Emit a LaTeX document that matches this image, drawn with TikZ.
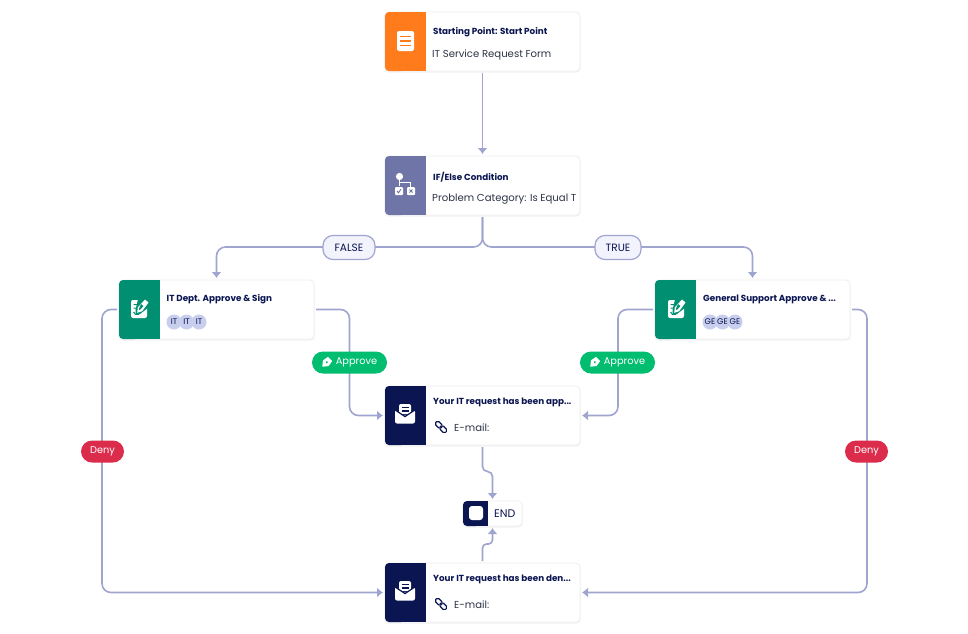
\documentclass[tikz,border=0pt]{standalone}
\usepackage{fontspec}
\setmainfont{Poppins}
\usetikzlibrary{arrows.meta,calc}
\definecolor{flowc}{HTML}{A0A5D0}
\definecolor{navy}{HTML}{0A1551}
\definecolor{orangeb}{HTML}{FF7B1C}
\definecolor{purpleb}{HTML}{6F76A7}
\definecolor{greenb}{HTML}{018F72}
\definecolor{apprv}{HTML}{01BD6F}
\definecolor{denyc}{HTML}{DC2C4C}
\definecolor{pillf}{HTML}{F3F3FE}
\definecolor{avat}{HTML}{C8CEED}
\definecolor{bodyt}{HTML}{2C3345}
\definecolor{edgec}{HTML}{EEEEF3}
\tikzset{
  x=1pt,y=-1pt,
  card/.style={draw=edgec,fill=white,rounded corners=4pt,minimum width=195pt,minimum height=59pt,inner sep=0pt,outer sep=2pt,line width=.7pt,
    preaction={draw=black!5,line width=1.4pt,transform canvas={yshift=-1pt}}},
  endcard/.style={card,minimum width=59pt,minimum height=25pt},
  title/.style={anchor=west,inner sep=0pt,font=\fontsize{8.8}{10}\selectfont\bfseries,text=navy},
  bodytxt/.style={anchor=west,inner sep=0pt,font=\fontsize{10.1}{12}\selectfont,text=bodyt},
  flow/.style={draw=flowc,line width=1.6pt,rounded corners=9pt,-{Latex[length=6pt,width=10pt]}},
  pillb/.style={rounded corners=11pt,minimum height=22pt,inner sep=0pt,text=white,font=\fontsize{9.8}{11}\selectfont},
  branch/.style={rounded corners=10pt,draw=flowc,fill=pillf,line width=1.2pt,minimum height=24pt,inner sep=0pt,text=navy,font=\fontsize{10.6}{12}\selectfont},
  avatar/.style={circle,fill=avat,minimum size=15pt,inner sep=0pt,text=navy,font=\fontsize{8.2}{9}\selectfont},
}
\newcommand{\band}[2]{%
  \fill[#2,rounded corners=4pt] (#1.north west)++(2,2) rectangle ($(#1.south west)+(22,-2)$);
  \fill[#2] ($(#1.north west)+(12,2)$) rectangle ($(#1.south west)+(42.5,-2)$);
}
\newcommand{\signicon}[2]{%
  \begin{scope}[shift={(#1,#2)}]
    \fill[white,rounded corners=2pt] (-8,-9) rectangle (8,9);
    \fill[greenb] (-1,-9.6) -- (8.8,-9.6) -- (8.8,-1) -- (1,5) -- (-3.5,5.5) -- (-3.5,1) -- cycle;
    \fill[white] (6,-9.5) -- (9.5,-6.5) -- (3.2,2.2) -- (-1.8,3.8) -- (-1.2,-1.6) -- cycle;
    \fill[greenb] (2,-5) -- (4.4,-3) -- (1.6,.2) -- (.2,1) -- (.2,-.8) -- cycle;
    \draw[greenb,line width=1pt] (-5.5,-4.5) -- (-2,-4.5) (-5.5,-1) -- (-3,-1) (-5.5,3) -- (-3.5,5.4) -- (0,5.4);
  \end{scope}}
\newcommand{\mailicon}[2]{%
  \begin{scope}[shift={(#1,#2)}]
    \fill[white,rounded corners=2pt] (-6,-10) rectangle (6,0);
    \fill[white,rounded corners=2pt] (-10,-4) -- (0,2.5) -- (10,-4) -- (10,9.5) -- (-10,9.5) -- cycle;
    \draw[navy,line width=1.3pt] (-3.5,-6.5) -- (3.5,-6.5) (-3.5,-3) -- (3.5,-3);
    \draw[navy,line width=1.2pt] (-10.5,-4.5) -- (0,2.6) -- (10.5,-4.5);
  \end{scope}}
\newcommand{\linkicon}[2]{%
  \begin{scope}[shift={(#1,#2)},rotate=-45]
    \draw[navy,line width=1.1pt,rounded corners=1.8pt] (-7,-2.3) rectangle (.8,2.3);
    \draw[navy,line width=1.1pt,rounded corners=1.8pt] (-.8,-2.3) rectangle (7,2.3);
  \end{scope}}
\begin{document}
\begin{tikzpicture}
\useasboundingbox (0,0) rectangle (968,633);
\fill[white] (0,0) rectangle (968,633);

% cards
\node[card] (start) at (482.5,41.5) {};
\node[card] (cond) at (482.5,185.5) {};
\node[card] (itd) at (216.5,309.5) {};
\node[card] (gen) at (752.5,309.5) {};
\node[card] (appr) at (482.5,415.5) {};
\node[card] (deny) at (482.5,592.5) {};
\node[endcard] (fin) at (492.5,513.5) {};

% coloured bands
\band{start}{orangeb}
\band{cond}{purpleb}
\band{itd}{greenb}
\band{gen}{greenb}
\band{appr}{navy}
\band{deny}{navy}
\fill[navy,rounded corners=4pt] (463,501) rectangle (480,526);
\fill[navy] (472,501) rectangle (488,526);

% icons
\fill[white,rounded corners=2pt] (397,31) rectangle (414,51);
\draw[orangeb,line width=1.6pt] (400,36.5) -- (411,36.5) (400,41) -- (411,41) (400,45.5) -- (411,45.5);
\begin{scope}[shift={(405,186)}]
  \fill[white] (-5.5,-9.5) circle (3.6);
  \draw[white,line width=1.5pt] (-5.5,-7) -- (-5.5,0) (-5.5,-3.5) -- (5.5,-3.5) -- (5.5,1);
  \fill[white,rounded corners=1pt] (-10,1) rectangle (-2,9);
  \fill[white,rounded corners=1pt] (2,1) rectangle (10,9);
  \draw[purpleb,line width=.9pt] (-8,5) -- (-6.5,6.8) -- (-4,3.2);
  \draw[purpleb,line width=.9pt] (4.5,3.5) -- (7.5,6.5) (7.5,3.5) -- (4.5,6.5);
\end{scope}
\signicon{139}{309}
\signicon{676}{309}
\mailicon{405}{414}
\mailicon{405}{591}
\fill[white,rounded corners=3pt] (469,506) rectangle (483,520);

% card texts
\node[title] (t1) at (433,32) {Starting Point: Start Point};
\node[bodytxt] (b1) at (432,55) {IT Service Request Form};
\node[title] (t2) at (433,177) {IF/Else Condition};
\node[bodytxt] (b2) at (432,199.5) {Problem Category: Is Equal T};
\node[title] (t3) at (166.5,299) {IT Dept. Approve \& Sign};
\node[title] (t4) at (703,299) {General Support Approve \& ...};
\node[title] (t5) at (433,402.5) {Your IT request has been app...};
\node[title] (t6) at (433,579) {Your IT request has been den...};
\node[bodytxt] (b5) at (454,427.5) {E-mail:};
\node[bodytxt] (b6) at (454,604.5) {E-mail:};
\linkicon{441}{427}
\linkicon{441}{604}
\node[anchor=west,inner sep=0pt,font=\fontsize{11}{13}\selectfont,text=navy] (endt) at (494,514) {END};

% avatars
\node[avatar] (a1) at (174,322) {IT};
\node[avatar] (a2) at (186.5,322) {IT};
\node[avatar] (a3) at (199,322) {IT};
\node[avatar] (g1) at (710,322) {GE};
\node[avatar] (g2) at (722.5,322) {GE};
\node[avatar] (g3) at (735,322) {GE};

% connectors
\draw[flow] (start.south) -- (cond.north);
\draw[flow] (cond.south) -- ++(0,30) -| (itd.north);
\draw[flow] (cond.south) -- ++(0,30) -| (gen.north);
\draw[flow] (itd.east) -- ++(33.5,0) |- (appr.west);
\draw[flow] (gen.west) -- ++(-35,0) |- (appr.east);
\draw[flow] (itd.west) -- ++(-15,0) |- (deny.west);
\draw[flow] (gen.east) -- ++(15,0) |- (deny.east);
\draw[flow,rounded corners=5pt] (appr.south) -- ++(0,24.5) -| (fin.north);
\draw[flow,rounded corners=4pt] (deny.north) -- ++(0,-17) -| (fin.south);

% pills
\node[branch,minimum width=52pt] (pf) at (349,247.5) {\raisebox{-.5pt}{FALSE}};
\node[branch,minimum width=46pt] (pt) at (618,247.5) {\raisebox{-.5pt}{TRUE}};
\node[pillb,fill=apprv,minimum width=75pt] (pa1) at (349.5,362.5) {\raisebox{-1.5pt}{\hspace*{14pt}Approve}};
\node[pillb,fill=apprv,minimum width=75pt] (pa2) at (617.5,362.5) {\raisebox{-1.5pt}{\hspace*{14pt}Approve}};
\node[pillb,fill=denyc,minimum width=43pt] (pd1) at (102.5,451.5) {\raisebox{-1pt}{Deny}};
\node[pillb,fill=denyc,minimum width=43pt] (pd2) at (866.5,451.5) {\raisebox{-1pt}{Deny}};
\foreach \px in {326.5,594.5}{
  \begin{scope}[shift={(\px,362.5)},rotate=-45]
    \fill[white] (-3,-5) -- (3,-5) -- (4,1) -- (0,6) -- (-4,1) -- cycle;
    \fill[apprv] (0,-.5) circle (1.2);
  \end{scope}}
\end{tikzpicture}
\end{document}
